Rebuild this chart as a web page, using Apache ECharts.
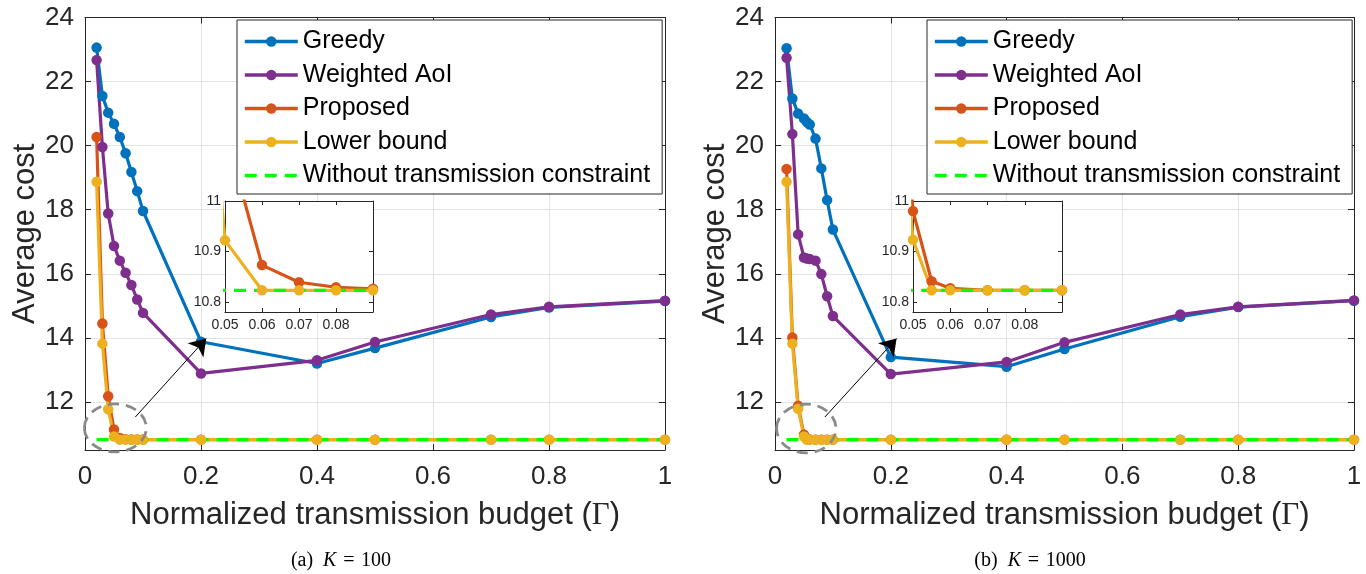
<!DOCTYPE html>
<html><head><meta charset="utf-8">
<script src="https://cdn.jsdelivr.net/npm/echarts@6/dist/echarts.min.js"></script>
<style>html,body{margin:0;padding:0;background:#fff}#c{width:1366px;height:574px}</style>
</head><body><div id="c"></div>
<script>
// ---------------- data ----------------
const seriesNames = ['Greedy', 'Weighted AoI', 'Proposed', 'Lower bound', 'Without transmission constraint'];

// (a) K = 100
const budgetK100   = [0.02, 0.03, 0.04, 0.05, 0.06, 0.07, 0.08, 0.09, 0.1, 0.2, 0.4, 0.5, 0.7, 0.8, 1];
const greedyK100   = [23.06, 21.55, 21.03, 20.68, 20.27, 19.76, 19.18, 18.58, 17.96, 13.88, 13.20, 13.68, 14.65, 14.95, 15.15];
const weightedK100 = [22.67, 19.96, 17.88, 16.87, 16.41, 16.03, 15.65, 15.20, 14.78, 12.89, 13.30, 13.87, 14.73, 14.97, 15.16];
const proposedK100 = [20.27, 14.45, 12.18, 11.14, 10.873, 10.839, 10.829, 10.826, 10.824, 10.823, 10.823, 10.823, 10.823, 10.823, 10.823];
const lowerK100    = [18.87, 13.82, 11.77, 10.922, 10.823, 10.823, 10.823, 10.823, 10.823, 10.823, 10.823, 10.823, 10.823, 10.823, 10.823];

// (b) K = 1000
const budgetK1000   = [0.02, 0.03, 0.04, 0.05, 0.055, 0.06, 0.07, 0.08, 0.09, 0.1, 0.2, 0.4, 0.5, 0.7, 0.8, 1];
const greedyK1000   = [23.04, 21.47, 21.00, 20.85, 20.74, 20.66, 20.22, 19.29, 18.30, 17.38, 13.40, 13.10, 13.65, 14.66, 14.96, 15.16];
const weightedK1000 = [22.74, 20.36, 17.23, 16.51, 16.48, 16.46, 16.41, 15.99, 15.30, 14.68, 12.87, 13.25, 13.86, 14.73, 14.97, 15.17];
const proposedK1000 = [19.27, 14.01, 11.88, 10.98, 10.841, 10.827, 10.823, 10.823, 10.823, 10.823, 10.823, 10.823, 10.823, 10.823, 10.823, 10.823];
const lowerK1000    = [18.87, 13.82, 11.79, 10.923, 10.823, 10.823, 10.823, 10.823, 10.823, 10.823, 10.823, 10.823, 10.823, 10.823, 10.823, 10.823];

// no-constraint reference (same for both panels)
const noConstraintX = [0.02, 1];
const noConstraintY = [10.823, 10.823];

// tick labels
const mainXTicks = [0, 0.2, 0.4, 0.6, 0.8, 1];
const mainYTicks = [12, 14, 16, 18, 20, 22, 24];
const insetXTicks = [0.05, 0.06, 0.07, 0.08];
const insetYTicks = [10.8, 10.9, 11];

// annotations (data coordinates)
const ellipseK100  = [0.0523, 11.19, 0.0535, 0.75];
const ellipseK1000 = [0.0540, 11.17, 0.0513, 0.76];
const arrowK100  = [[0.0868, 11.53], [0.209, 13.98]];
const arrowK1000 = [[0.0862, 11.53], [0.210, 13.98]];

// ---------------- chart ----------------
const FONT = 'Liberation Sans';
const AX = '#262626';
const COLORS = ['#0072BD', '#7E2F8E', '#D95319', '#EDB120', '#00FF00'];

const chart = echarts.init(document.getElementById('c'), null, {renderer: 'canvas'});

const grids = [
  {left: 85, top: 17.5, width: 580, height: 432.5, show: true, backgroundColor: '#fff', borderWidth: 0, z: 0},
  {left: 225, top: 201, width: 148, height: 111, show: true, backgroundColor: '#fff', borderWidth: 0, z: 3},
  {left: 775, top: 17.5, width: 579, height: 432.5, show: true, backgroundColor: '#fff', borderWidth: 0, z: 0},
  {left: 913, top: 201, width: 149, height: 111, show: true, backgroundColor: '#fff', borderWidth: 0, z: 3}
];

function fmt(v) { return String(+(+v).toFixed(3)); }

function xAx(grid, inset, primary) {
  const a = {
    type: 'value', gridIndex: grid, position: primary ? 'bottom' : 'top',
    min: inset ? 0.05 : 0, max: inset ? 0.09 : 1, interval: inset ? 0.01 : 0.2,
    z: inset ? 5 : 1,
    axisLine: {show: true, onZero: false, lineStyle: {color: AX, width: 1}},
    axisTick: {show: true, inside: true, length: inset ? 4 : 6, lineStyle: {color: AX}},
    axisLabel: {show: primary, fontFamily: FONT, fontSize: inset ? 14 : 26, color: AX, margin: inset ? 6 : 14,
      customValues: inset ? insetXTicks : mainXTicks, formatter: fmt},
    splitLine: {show: primary && !inset, lineStyle: {color: '#e3e3e3', width: 1}}
  };
  if (primary && !inset) {
    a.name = 'Normalized transmission budget ({g|Γ})';
    a.nameLocation = 'middle';
    a.nameGap = 50;
    a.nameTextStyle = {fontFamily: FONT, fontSize: 31, color: AX,
      rich: {g: {fontFamily: 'Liberation Serif', fontSize: 31, color: AX}}};
  }
  return a;
}
function yAx(grid, inset, primary) {
  const ticks = inset ? insetYTicks : mainYTicks;
  const a = {
    type: 'value', gridIndex: grid, position: primary ? 'left' : 'right',
    min: inset ? 10.78 : 10.5, max: inset ? 11 : 24,
    z: inset ? 5 : 1,
    axisLine: {show: true, onZero: false, lineStyle: {color: AX, width: 1}},
    axisTick: {show: true, inside: true, length: inset ? 4 : 6, lineStyle: {color: AX}, customValues: ticks},
    axisLabel: {show: primary, fontFamily: FONT, fontSize: inset ? 14 : 26, color: AX, margin: inset ? 4 : 11,
      customValues: ticks, formatter: fmt},
    splitLine: {show: primary && !inset, lineStyle: {color: '#e3e3e3', width: 1}}
  };
  if (primary && !inset) {
    a.name = 'Average cost';
    a.nameLocation = 'middle';
    a.nameGap = 44;
    a.nameTextStyle = {fontFamily: FONT, fontSize: 31, color: AX};
  }
  return a;
}

const xAxes = [xAx(0, false, true), xAx(1, true, true), xAx(2, false, true), xAx(3, true, true),
               xAx(0, false, false), xAx(1, true, false), xAx(2, false, false), xAx(3, true, false)];
const yAxes = [yAx(0, false, true), yAx(1, true, true), yAx(2, false, true), yAx(3, true, true),
               yAx(0, false, false), yAx(1, true, false), yAx(2, false, false), yAx(3, true, false)];

function pairs(xs, ys) { return xs.map((x, i) => [x, ys[i]]); }

function lineS(idx, xs, ys, ax, z) {
  return {
    type: 'line', name: seriesNames[idx], xAxisIndex: ax, yAxisIndex: ax,
    data: pairs(xs, ys), symbol: 'circle', symbolSize: 10.5, showSymbol: true,
    lineStyle: {color: COLORS[idx], width: 3.2}, itemStyle: {color: COLORS[idx]},
    z: z, clip: true, emphasis: {disabled: true}, silent: true
  };
}
function greenS(ax, z, arrow) {
  const s = {
    type: 'line', name: seriesNames[4], xAxisIndex: ax, yAxisIndex: ax,
    data: pairs(noConstraintX, noConstraintY), symbol: 'none', showSymbol: false,
    lineStyle: {color: COLORS[4], width: 3.2, type: [12, 8]}, itemStyle: {color: COLORS[4]},
    z: z, clip: true, emphasis: {disabled: true}, silent: true
  };
  if (arrow) {
    s.markLine = {
      silent: true, symbol: ['none', 'arrow'], symbolSize: 16, animation: false,
      lineStyle: {color: '#000', width: 1, type: 'solid'}, label: {show: false},
      emphasis: {disabled: true},
      data: [[{coord: arrow[0]}, {coord: arrow[1]}]]
    };
  }
  return s;
}
function ellipseS(ax, e) {
  return {
    type: 'custom', coordinateSystem: 'cartesian2d', xAxisIndex: ax, yAxisIndex: ax,
    data: [e], encode: {x: 0, y: 1}, silent: true, clip: false, z: 4,
    renderItem: function (params, api) {
      const c = api.coord([api.value(0), api.value(1)]);
      const s = api.size([api.value(2), api.value(3)]);
      return {type: 'ellipse', shape: {cx: c[0], cy: c[1], rx: s[0], ry: s[1]},
        style: {fill: 'none', stroke: '#8a8a8a', lineWidth: 2.8, lineDash: [11, 7]}};
    }
  };
}

const series = [
  // (a) main
  lineS(0, budgetK100, greedyK100, 0, 2),
  lineS(1, budgetK100, weightedK100, 0, 2),
  lineS(2, budgetK100, proposedK100, 0, 2),
  lineS(3, budgetK100, lowerK100, 0, 2),
  greenS(0, 2, arrowK100),
  ellipseS(0, ellipseK100),
  // (a) inset
  lineS(2, budgetK100, proposedK100, 1, 6),
  lineS(3, budgetK100, lowerK100, 1, 6),
  greenS(1, 6, null),
  // (b) main
  lineS(0, budgetK1000, greedyK1000, 2, 2),
  lineS(1, budgetK1000, weightedK1000, 2, 2),
  lineS(2, budgetK1000, proposedK1000, 2, 2),
  lineS(3, budgetK1000, lowerK1000, 2, 2),
  greenS(2, 2, arrowK1000),
  ellipseS(2, ellipseK1000),
  // (b) inset
  lineS(2, budgetK1000, proposedK1000, 3, 6),
  lineS(3, budgetK1000, lowerK1000, 3, 6),
  greenS(3, 6, null)
];

function legendDef(left) {
  return {
    data: [
      seriesNames[0], seriesNames[1], seriesNames[2], seriesNames[3],
      {name: seriesNames[4], itemStyle: {color: 'rgba(0,0,0,0)', borderWidth: 0, opacity: 0}}
    ],
    orient: 'vertical', left: left, top: 20,
    padding: [9, 12, 6, 6], itemGap: 8.5, itemWidth: 53, itemHeight: 13,
    backgroundColor: '#fff', borderColor: AX, borderWidth: 1, borderRadius: 0,
    selectedMode: false,
    lineStyle: {width: 3.6},
    textStyle: {fontFamily: FONT, fontSize: 25, color: '#000', lineHeight: 25}
  };
}

function caption(x, label, k) {
  return {type: 'text', x: x, y: 561, silent: true,
    style: {text: '{n|' + label + '}   {i|K}  {n|=}  {n|' + k + '}', align: 'center', verticalAlign: 'middle',
      rich: {n: {fontFamily: 'Liberation Serif', fontSize: 20, fill: '#000'},
             i: {fontFamily: 'Liberation Serif', fontStyle: 'italic', fontSize: 20, fill: '#000'}}}};
}

const option = {
  animation: false,
  backgroundColor: '#fff',
  grid: grids,
  xAxis: xAxes,
  yAxis: yAxes,
  legend: [legendDef(237), legendDef(927)],
  series: series,
  graphic: [caption(341, '(a)', '100'), caption(1030, '(b)', '1000')]
};
chart.setOption(option);
</script>
</body></html>
